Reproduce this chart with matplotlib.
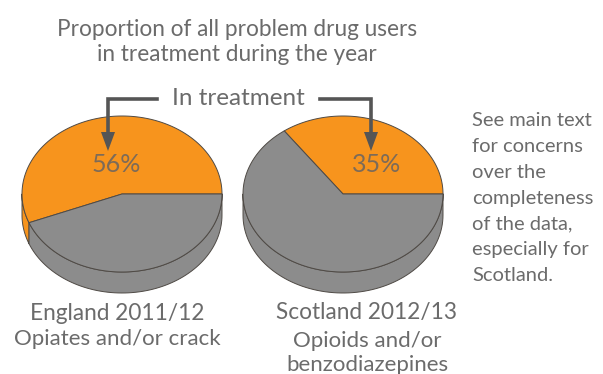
import numpy as np
import matplotlib.pyplot as plt
from matplotlib.patches import Polygon

plt.rcParams['font.family'] = ['Lato', 'DejaVu Sans']

# data
countries = ['England 2011/12', 'Scotland 2012/13']
drug_groups = ['Opiates and/or crack', 'Opioids and/or\nbenzodiazepines']
in_treatment = [56, 35]  # percent in treatment
title = 'Proportion of all problem drug users\nin treatment during the year'
note = ('See main text\nfor concerns\nover the\ncompleteness\n'
        'of the data,\nespecially for\nScotland.')

orange = '#f7941d'
grey = '#8c8c8c'
edge = '#4f4a45'
txt = '#6b6b6b'
dark = '#555555'

fig = plt.figure(figsize=(6.03, 3.74), dpi=100)
ax = fig.add_axes([0, 0, 1, 1])
ax.set_xlim(0, 603)
ax.set_ylim(374, 0)
ax.axis('off')


def pie3d(cx, cy, rx, ry, depth, pct):
    split = 360 * pct / 100.0

    def pts(a, dy=0.0):
        a = np.radians(a)
        return np.column_stack([cx + rx * np.cos(a), cy - ry * np.sin(a) + dy])

    slices = [(0, split, orange), (split, 360, grey)]
    # front wall (only the lower half of the ellipse is visible)
    for a0, a1, col in slices:
        lo, hi = max(a0, 180), min(a1, 360)
        if hi > lo:
            t = np.linspace(lo, hi, 80)
            ax.add_patch(Polygon(np.vstack([pts(t), pts(t[::-1], depth)]),
                                 fc=col, ec=edge, lw=0.7, joinstyle='round'))
    # top face
    for a0, a1, col in slices:
        t = np.linspace(a0, a1, 150)
        ax.add_patch(Polygon(np.vstack([[cx, cy], pts(t)]),
                             fc=col, ec=edge, lw=0.7, joinstyle='round'))


centres = [122, 343]
for cx, pct in zip(centres, in_treatment):
    pie3d(cx, 194, 100, 78, 21, pct)

# percentage labels
ax.text(116, 164, f'{in_treatment[0]}%', ha='center', va='center',
        fontsize=18, color='#7d6b58')
ax.text(377, 164, f'{in_treatment[1]}%', ha='center', va='center',
        fontsize=18, color='#7d6b58')

# "In treatment" callout with arrows
ax.text(238, 98, 'In treatment', ha='center', va='center', fontsize=17.5, color=txt)
ax.plot([157, 108, 108], [99, 99, 134], color=dark, lw=2.6, solid_joinstyle='miter')
ax.plot([320, 371, 371], [99, 99, 134], color=dark, lw=2.6, solid_joinstyle='miter')
for x in (108, 371):
    ax.add_patch(Polygon([[x - 7, 132], [x + 7, 132], [x, 151]], fc=dark, ec='none'))

# titles and labels
ax.text(237, 42, title, ha='center', va='center', fontsize=16.3, color=txt,
        linespacing=1.28)
ax.text(472, 198, note, ha='left', va='center', fontsize=14.5, color=txt,
        linespacing=1.63)

ax.text(117, 313, countries[0], ha='center', va='center', fontsize=16.3, color=txt)
ax.text(117, 339, drug_groups[0], ha='center', va='center', fontsize=16, color=txt)
ax.text(367, 313, countries[1], ha='center', va='center', fontsize=16.3, color=txt)
ax.text(367, 353, drug_groups[1], ha='center', va='center', fontsize=16, color=txt,
        linespacing=1.3)

fig.savefig('out.png', dpi=100, facecolor='white')
